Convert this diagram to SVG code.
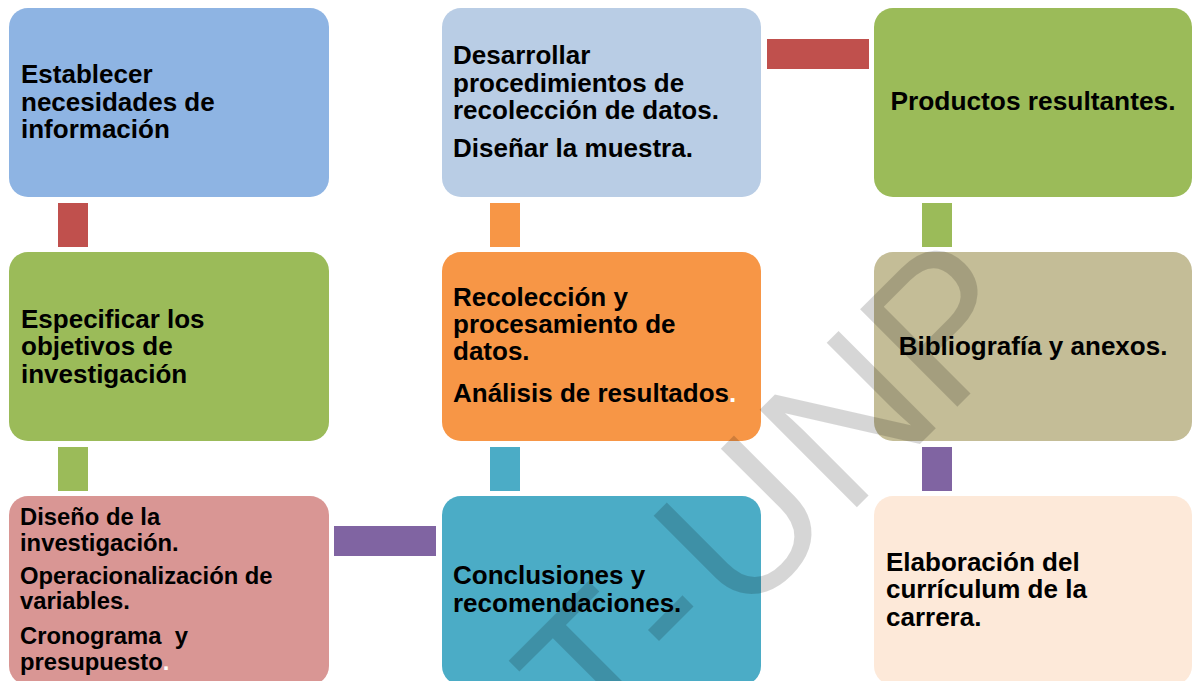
<svg xmlns="http://www.w3.org/2000/svg" width="1192" height="681" viewBox="0 0 1192 681">
<style>
.box{stroke:none}
.t{font-family:"Liberation Sans",Arial,sans-serif;font-weight:bold;font-size:26px;fill:#000}
.s{font-size:23.8px}
.m{text-anchor:middle}
.w{fill:#ffffff}
.wm{font-family:"Liberation Sans",Arial,sans-serif;font-weight:normal;font-size:200px;fill:#000;fill-opacity:0.16}
</style>
<rect width="1192" height="681" fill="#ffffff"/>
<g id="connectors">
<rect x="58" y="203" width="30" height="44" fill="#c0504d"/>
<rect x="490" y="203" width="30" height="44" fill="#f79646"/>
<rect x="922" y="203" width="30" height="44" fill="#9bbb59"/>
<rect x="58" y="447" width="30" height="44" fill="#9bbb59"/>
<rect x="490" y="447" width="30" height="44" fill="#4bacc6"/>
<rect x="922" y="447" width="30" height="44" fill="#8064a2"/>
<rect x="767" y="39" width="102" height="30" fill="#c0504d"/>
<rect x="334" y="526" width="102" height="30" fill="#8064a2"/>
</g>
<g id="n1">
<rect class="box" x="9" y="8" width="320" height="189" rx="19" fill="#8eb4e3"/>
<text class="t" x="21" y="83">Establecer</text>
<text class="t" x="21" y="111">necesidades de</text>
<text class="t" x="21" y="138">información</text>
</g>
<g id="n2">
<rect class="box" x="442" y="8" width="319" height="189" rx="19" fill="#b9cde5"/>
<text class="t" x="453" y="64">Desarrollar</text>
<text class="t" x="453" y="92">procedimientos de</text>
<text class="t" x="453" y="119">recolección de datos.</text>
<text class="t" x="453" y="157">Diseñar la muestra.</text>
</g>
<g id="n3">
<rect class="box" x="874" y="8" width="318" height="189" rx="19" fill="#9bbb59"/>
<text class="t m" x="1033" y="110" style="font-size:26.3px">Productos resultantes.</text>
</g>
<g id="n4">
<rect class="box" x="9" y="252" width="320" height="189" rx="19" fill="#9bbb59"/>
<text class="t" x="21" y="328">Especificar los</text>
<text class="t" x="21" y="355">objetivos de</text>
<text class="t" x="21" y="383">investigación</text>
</g>
<g id="n5">
<rect class="box" x="442" y="252" width="319" height="189" rx="19" fill="#f79646"/>
<text class="t" x="453" y="306">Recolección y</text>
<text class="t" x="453" y="333">procesamiento de</text>
<text class="t" x="453" y="360">datos.</text>
<text class="t" x="453" y="402">Análisis de resultados<tspan class="w">.</tspan></text>
</g>
<g id="n6">
<rect class="box" x="874" y="252" width="318" height="189" rx="19" fill="#c4bd97"/>
<text class="t m" x="1033" y="355">Bibliografía y anexos.</text>
</g>
<g id="n7">
<rect class="box" x="9" y="496" width="320" height="189" rx="19" fill="#d99694"/>
<text class="t s" x="20" y="525">Diseño de la</text>
<text class="t s" x="20" y="551">investigación.</text>
<text class="t s" x="20" y="584">Operacionalización de</text>
<text class="t s" x="20" y="609">variables.</text>
<text class="t s" x="20" y="644" xml:space="preserve">Cronograma  y</text>
<text class="t s" x="20" y="670">presupuesto<tspan class="w">.</tspan></text>
</g>
<g id="n8">
<rect class="box" x="442" y="496" width="319" height="189" rx="19" fill="#4bacc6"/>
<text class="t" x="453" y="584">Conclusiones y</text>
<text class="t" x="453" y="612">recomendaciones.</text>
</g>
<g id="n9">
<rect class="box" x="874" y="496" width="318" height="189" rx="19" fill="#fde9d9"/>
<text class="t" x="886" y="571">Elaboración del</text>
<text class="t" x="886" y="598">currículum de la</text>
<text class="t" x="886" y="626">carrera.</text>
</g>
<g id="watermark" transform="translate(682,682) rotate(-45)">
<text class="wm" x="-112" y="0">T</text>
<text class="wm" x="4" y="0">-</text>
<text class="wm" x="82" y="0">U</text>
<text class="wm" x="231" y="0">N</text>
<text class="wm" x="373" y="0">P</text>
</g>
</svg>
